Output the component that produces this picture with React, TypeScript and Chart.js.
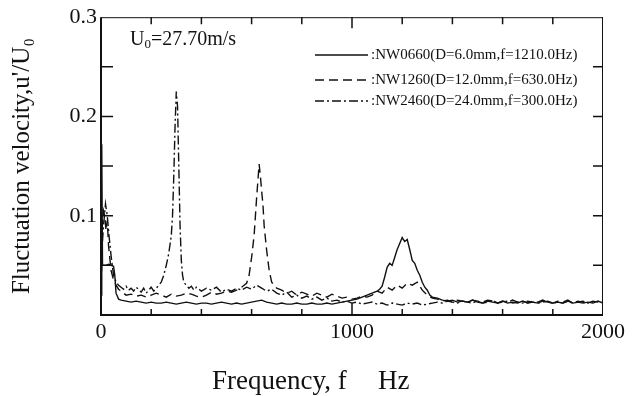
import React, { useEffect, useRef } from "react";
import { Chart, registerables } from "chart.js";

Chart.register(...registerables);

const SERIF = "'Liberation Serif', 'Times New Roman', Times, serif";

const seriesLabels = [
  ":NW0660(D=6.0mm,f=1210.0Hz)",
  ":NW1260(D=12.0mm,f=630.0Hz)",
  ":NW2460(D=24.0mm,f=300.0Hz)",
];

const xTickLabels = [0, 1000, 2000];
const yTickLabels = [0.1, 0.2, 0.3];

const nw0660Freq = [
  1, 3, 6, 12, 20, 30, 40, 50, 55, 60, 70, 80, 100, 120, 140, 160, 180, 200, 220, 240, 260, 280,
  300, 320, 340, 360, 380, 400, 420, 440, 460, 480, 500, 520, 540, 560, 580, 600, 620, 640, 660,
  680, 700, 720, 740, 760, 780, 800, 820, 840, 860, 880, 900, 920, 940, 960, 980, 1000, 1020,
  1040, 1060, 1080, 1100, 1110, 1120, 1130, 1140, 1150, 1160, 1170, 1180, 1190, 1200, 1210, 1220,
  1230, 1240, 1250, 1260, 1270, 1280, 1290, 1300, 1310, 1320, 1340, 1360, 1380, 1400, 1420, 1440,
  1460, 1480, 1500, 1520, 1540, 1560, 1580, 1600, 1620, 1640, 1660, 1680, 1700, 1720, 1740, 1760,
  1780, 1800, 1820, 1840, 1860, 1880, 1900, 1920, 1940, 1960, 1980, 2000,
];
const nw0660Value = [
  0.02, 0.172, 0.05, 0.05, 0.05, 0.051, 0.05, 0.049, 0.04, 0.022, 0.016, 0.015, 0.014, 0.013,
  0.014, 0.013, 0.012, 0.013, 0.012, 0.012, 0.013, 0.012, 0.011, 0.012, 0.013, 0.012, 0.011,
  0.012, 0.012, 0.011, 0.012, 0.013, 0.012, 0.011, 0.012, 0.011, 0.012, 0.013, 0.014, 0.015,
  0.013, 0.012, 0.011, 0.012, 0.011, 0.011, 0.012, 0.011, 0.011, 0.012, 0.011, 0.011, 0.012,
  0.011, 0.012, 0.013, 0.014, 0.015, 0.016, 0.018, 0.02, 0.022, 0.024, 0.026, 0.029, 0.038,
  0.048, 0.052, 0.05, 0.058, 0.066, 0.072, 0.078, 0.074, 0.076, 0.066, 0.055, 0.052, 0.045,
  0.04, 0.033, 0.028, 0.025, 0.02, 0.018, 0.017, 0.015, 0.014, 0.015, 0.013, 0.014, 0.013,
  0.015, 0.013, 0.012, 0.014, 0.013, 0.012, 0.014, 0.012, 0.013, 0.012, 0.014, 0.012, 0.013,
  0.012, 0.014, 0.013, 0.012, 0.013, 0.012, 0.014, 0.012, 0.013, 0.012, 0.013, 0.012, 0.014,
  0.012,
];

const nw1260Freq = [
  1, 5, 10, 15, 20, 25, 30, 40, 50, 60, 70, 80, 90, 100, 120, 140, 160, 180, 200, 220, 240, 260,
  280, 300, 320, 340, 360, 380, 400, 420, 440, 460, 480, 500, 520, 540, 560, 570, 580, 590, 600,
  610, 620, 625, 630, 635, 640, 645, 650, 660, 670, 680, 690, 700, 720, 740, 760, 780, 800, 820,
  840, 860, 880, 900, 920, 940, 960, 980, 1000, 1020, 1040, 1060, 1080, 1100, 1120, 1140, 1160,
  1180, 1200, 1220, 1240, 1260, 1280, 1300, 1320, 1340, 1360, 1380, 1400, 1420, 1440, 1460, 1480,
  1500, 1520, 1540, 1560, 1580, 1600, 1620, 1640, 1660, 1680, 1700, 1720, 1740, 1760, 1780, 1800,
  1820, 1840, 1860, 1880, 1900, 1920, 1940, 1960, 1980, 2000,
];
const nw1260Value = [
  0.03, 0.09, 0.105, 0.1, 0.085, 0.095, 0.07, 0.045, 0.035, 0.03, 0.026, 0.024, 0.022, 0.02,
  0.021, 0.019, 0.02, 0.018, 0.02, 0.022, 0.02, 0.018, 0.021, 0.019, 0.02, 0.022, 0.021, 0.019,
  0.018, 0.02, 0.023, 0.021, 0.022, 0.024, 0.023, 0.025, 0.028, 0.03, 0.032, 0.04, 0.058, 0.08,
  0.118, 0.135, 0.152, 0.14, 0.125, 0.112, 0.09, 0.065, 0.045, 0.033, 0.03, 0.027, 0.025, 0.022,
  0.024, 0.02, 0.023, 0.021, 0.019, 0.022, 0.02, 0.018, 0.021, 0.019, 0.017, 0.018, 0.016,
  0.017, 0.019, 0.018, 0.02, 0.024, 0.022, 0.028, 0.025, 0.03, 0.027, 0.032, 0.03, 0.033, 0.025,
  0.02, 0.017, 0.016, 0.014, 0.015, 0.013, 0.015, 0.014, 0.013, 0.015, 0.014, 0.013, 0.015,
  0.014, 0.012, 0.014, 0.013, 0.015, 0.013, 0.014, 0.012, 0.014, 0.013, 0.015, 0.013, 0.012,
  0.014, 0.013, 0.015, 0.012, 0.014, 0.013, 0.012, 0.014, 0.013, 0.015, 0.013,
];

const nw2460Freq = [
  1, 5, 10, 18, 25, 32, 40, 50, 60, 70, 80, 90, 100, 110, 120, 130, 140, 150, 160, 170, 180, 190,
  200, 210, 220, 230, 240, 250, 260, 270, 280, 285, 290, 295, 300, 305, 310, 315, 320, 325, 330,
  340, 350, 360, 370, 380, 400, 420, 440, 460, 480, 500, 520, 540, 560, 580, 600, 620, 640, 660,
  680, 700, 720, 740, 760, 780, 800, 820, 840, 860, 880, 900, 920, 940, 960, 980, 1000, 1020,
  1040, 1060, 1080, 1100, 1120, 1140, 1160, 1180, 1200, 1220, 1240, 1260, 1280, 1300, 1320, 1340,
  1360, 1380, 1400, 1420, 1440, 1460, 1480, 1500, 1520, 1540, 1560, 1580, 1600, 1620, 1640, 1660,
  1680, 1700, 1720, 1740, 1760, 1780, 1800, 1820, 1840, 1860, 1880, 1900, 1920, 1940, 1960, 1980,
  2000,
];
const nw2460Value = [
  0.04, 0.07, 0.09, 0.112, 0.1, 0.08, 0.06, 0.04, 0.033, 0.03, 0.028, 0.026, 0.029, 0.025, 0.027,
  0.024, 0.028, 0.026, 0.023, 0.027, 0.022, 0.025, 0.028, 0.024, 0.027, 0.03, 0.033, 0.04, 0.05,
  0.062, 0.08, 0.1, 0.14, 0.19, 0.225, 0.21, 0.15, 0.09, 0.055, 0.04, 0.033, 0.03, 0.027, 0.029,
  0.025, 0.028, 0.024, 0.027, 0.025, 0.028, 0.023, 0.026, 0.024, 0.027, 0.025, 0.028, 0.026,
  0.03, 0.027, 0.024, 0.026, 0.022, 0.02, 0.023, 0.018, 0.02, 0.017, 0.019, 0.016, 0.018, 0.015,
  0.017, 0.014, 0.015, 0.013, 0.014, 0.012, 0.013, 0.011, 0.012, 0.013, 0.011, 0.012, 0.01,
  0.012, 0.011, 0.01, 0.012, 0.011, 0.012, 0.01, 0.011, 0.012, 0.013, 0.012, 0.014, 0.013,
  0.012, 0.014, 0.013, 0.012, 0.014, 0.012, 0.013, 0.015, 0.012, 0.013, 0.014, 0.012, 0.013,
  0.012, 0.014, 0.013, 0.012, 0.013, 0.014, 0.012, 0.013, 0.012, 0.014, 0.012, 0.013, 0.014,
  0.012, 0.013,
];

const seriesFreqs = [nw0660Freq, nw1260Freq, nw2460Freq];
const seriesValues = [nw0660Value, nw1260Value, nw2460Value];
const seriesDashes: number[][] = [[], [9, 5], [9, 3, 2, 3]];

const INK = "#111111";

const decorPlugin = {
  id: "decor",
  afterDraw(chart: any) {
    const { ctx, chartArea } = chart;
    const { left, right, top, bottom } = chartArea;
    const xs = chart.scales.x;
    const ys = chart.scales.y;
    ctx.save();
    ctx.strokeStyle = INK;
    // frame
    ctx.lineWidth = 1;
    ctx.beginPath();
    ctx.moveTo(left, top + 0.5);
    ctx.lineTo(right, top + 0.5);
    ctx.moveTo(right - 0.5, top);
    ctx.lineTo(right - 0.5, bottom);
    ctx.stroke();
    ctx.lineWidth = 2;
    ctx.beginPath();
    ctx.moveTo(left, top);
    ctx.lineTo(left, bottom);
    ctx.lineTo(right, bottom);
    ctx.stroke();
    // x ticks (inward)
    ctx.lineWidth = 1.5;
    for (let f = 200; f < 2000; f += 200) {
      const px = xs.getPixelForValue(f);
      const major = f % 1000 === 0;
      ctx.beginPath();
      ctx.moveTo(px, bottom);
      ctx.lineTo(px, bottom - (major ? 12 : 6));
      ctx.moveTo(px, top);
      ctx.lineTo(px, top + (major ? 11 : 7));
      ctx.stroke();
    }
    // y ticks (inward)
    for (let k = 1; k < 6; k++) {
      const py = ys.getPixelForValue(k * 0.05);
      ctx.beginPath();
      ctx.moveTo(left, py);
      ctx.lineTo(left + 12, py);
      ctx.moveTo(right, py);
      ctx.lineTo(right - 10, py);
      ctx.stroke();
    }
    // legend
    ctx.lineWidth = 1.4;
    const rowY = [55, 80, 101];
    ctx.font = `15px ${SERIF}`;
    ctx.fillStyle = INK;
    ctx.textBaseline = "middle";
    ctx.textAlign = "left";
    seriesLabels.forEach((lab, i) => {
      ctx.setLineDash(seriesDashes[i]);
      ctx.beginPath();
      ctx.moveTo(315, rowY[i]);
      ctx.lineTo(368, rowY[i]);
      ctx.stroke();
      ctx.setLineDash([]);
      ctx.fillText(lab, 371, rowY[i]);
    });
    // U0 annotation
    ctx.textBaseline = "alphabetic";
    ctx.font = `20px ${SERIF}`;
    let x = 130;
    const baseY = 45;
    ctx.fillText("U", x, baseY);
    x += ctx.measureText("U").width;
    ctx.font = `13px ${SERIF}`;
    ctx.fillText("0", x, baseY + 3);
    x += ctx.measureText("0").width;
    ctx.font = `20px ${SERIF}`;
    ctx.fillText("=27.70m/s", x, baseY);
    // x axis title
    ctx.font = `27px ${SERIF}`;
    ctx.textAlign = "left";
    ctx.textBaseline = "alphabetic";
    ctx.fillText("Frequency, f", 212, 389);
    ctx.fillText("Hz", 378, 389);
    ctx.restore();
  },
};

export default function App() {
  const ref = useRef<HTMLCanvasElement | null>(null);
  useEffect(() => {
    document.body.style.margin = "0";
    const canvas = ref.current;
    if (!canvas) return;
    const chart = new Chart(canvas, {
      type: "line",
      data: {
        datasets: seriesLabels.map((lab, i) => ({
          label: lab,
          data: seriesFreqs[i].map((f, j) => ({ x: f, y: seriesValues[i][j] })),
          borderColor: INK,
          borderWidth: 1.4,
          borderDash: seriesDashes[i],
          pointRadius: 0,
          tension: 0,
          fill: false,
        })),
      },
      options: {
        responsive: false,
        animation: false,
        devicePixelRatio: 1,
        layout: { padding: { left: 0, right: 39, top: 15, bottom: 0 } },
        plugins: { legend: { display: false }, tooltip: { enabled: false } },
        scales: {
          x: {
            type: "linear",
            min: 0,
            max: 2000,
            grid: { display: false, drawTicks: false },
            border: { display: false },
            ticks: {
              stepSize: 200,
              autoSkip: false,
              maxRotation: 0,
              padding: 4,
              color: INK,
              font: { family: SERIF, size: 22 },
              callback: (v: any) => (xTickLabels.includes(Number(v)) ? String(v) : ""),
            },
            afterFit: (s: any) => {
              s.height = 81;
            },
          },
          y: {
            type: "linear",
            min: 0,
            max: 0.3,
            grid: { display: false, drawTicks: false },
            border: { display: false },
            ticks: {
              stepSize: 0.05,
              autoSkip: false,
              padding: 4,
              color: INK,
              font: { family: SERIF, size: 22 },
              callback: (v: any) => {
                const n = Number(v);
                const hit = yTickLabels.find((t) => Math.abs(t - n) < 1e-6);
                return hit !== undefined ? hit.toFixed(1) : "";
              },
            },
            title: {
              display: true,
              text: "Fluctuation velocity,u'/U₀",
              color: INK,
              font: { family: SERIF, size: 25 },
              padding: { top: 7, bottom: 0 },
            },
            afterFit: (s: any) => {
              s.width = 101;
            },
          },
        },
      },
      plugins: [decorPlugin],
    });
    return () => chart.destroy();
  }, []);
  return (
    <div style={{ width: 642, height: 396, background: "#fff" }}>
      <canvas ref={ref} width={642} height={396} style={{ display: "block" }} />
    </div>
  );
}
